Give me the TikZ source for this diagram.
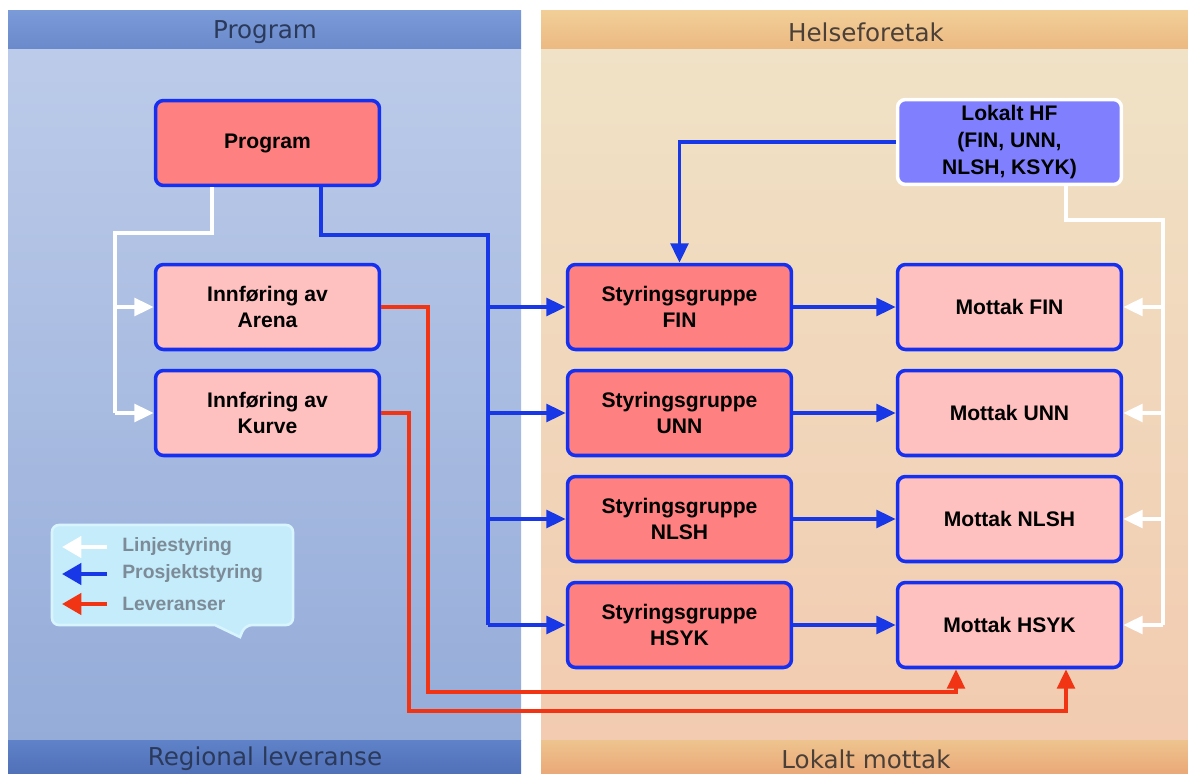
\documentclass[tikz,border=0pt]{standalone}
\usepackage{fontspec}
\setmainfont{Liberation Sans}
\newfontfamily\bandfont{DejaVu Sans}
\usetikzlibrary{arrows.meta}
\definecolor{boxblue}{HTML}{1530F0}
\definecolor{boxdark}{HTML}{FF8080}
\definecolor{boxlight}{HTML}{FFC0C0}
\definecolor{hffill}{HTML}{8080FF}
\definecolor{lineblue}{HTML}{1838E8}
\definecolor{linered}{HTML}{F03414}
\definecolor{lefttxt}{HTML}{2B3A5A}
\definecolor{righttxt}{HTML}{4A4038}
\definecolor{lhead1}{HTML}{7B9AD8}
\definecolor{lhead2}{HTML}{6A8ACB}
\definecolor{lbody1}{HTML}{BCCBE9}
\definecolor{lbody2}{HTML}{95ACD9}
\definecolor{lfoot1}{HTML}{5F82C8}
\definecolor{lfoot2}{HTML}{5070B8}
\definecolor{rhead1}{HTML}{F2CF98}
\definecolor{rhead2}{HTML}{ECB982}
\definecolor{rbody1}{HTML}{F0E2C6}
\definecolor{rbody2}{HTML}{F2CBB0}
\definecolor{rfoot1}{HTML}{EEC48E}
\definecolor{rfoot2}{HTML}{EAA878}
\definecolor{legfill}{HTML}{C4ECFA}
\definecolor{legedge}{HTML}{D8F4FF}
\definecolor{legtxt}{HTML}{7D8B98}
\begin{document}
\begin{tikzpicture}
  [x=0.02cm,y=-0.02cm,
   every node/.style={align=center,font=\bfseries\fontsize{12}{15.2}\selectfont},
   box/.style={draw=boxblue,line width=2pt,rounded corners=0.16cm,minimum width=4.48cm,minimum height=1.7cm},
   dark/.style={box,fill=boxdark},
   light/.style={box,fill=boxlight},
   bandtxt/.style={font=\bandfont\fontsize{14}{16}\selectfont},
   legtext/.style={anchor=west,inner sep=0pt,text=legtxt,font=\bfseries\fontsize{11}{13}\selectfont},
   lnk/.style={line width=2.1pt,-{Triangle[length=11pt,width=10pt]}},
   blueline/.style={lnk,draw=lineblue},
   whiteline/.style={lnk,draw=white},
   redline/.style={lnk,draw=linered},
   legarrow/.style={line width=2.4pt,-{Triangle[length=11pt,width=12pt]}}]
\useasboundingbox (0,0) rectangle (1188,774);
  % bakgrunn: program og helseforetak
  \fill[white] (0,0) rectangle (1188,774);
  \shade[top color=lbody1,bottom color=lbody2] (8,48) rectangle (521,740);
  \shade[top color=lhead1,bottom color=lhead2] (8,10) rectangle (521,48);
  \shade[top color=lfoot1,bottom color=lfoot2] (8,740) rectangle (521,774);
  \shade[top color=rbody1,bottom color=rbody2] (541,48) rectangle (1188,740);
  \shade[top color=rhead1,bottom color=rhead2] (541,10) rectangle (1188,48);
  \shade[top color=rfoot1,bottom color=rfoot2] (541,740) rectangle (1188,774);
  \node[bandtxt,text=lefttxt] (tprog) at (265,32) {Program};
  \node[bandtxt,text=righttxt] (thf) at (866,32) {Helseforetak};
  \node[bandtxt,text=lefttxt] (treg) at (265,759) {Regional leveranse};
  \node[bandtxt,text=righttxt] (tlok) at (866,759) {Lokalt mottak};

  % bokser
  \node[dark] (prog) at (267.5,143) {Program};
  \node[light] (arena) at (267.5,307) {Innføring av\\Arena};
  \node[light] (kurve) at (267.5,413) {Innføring av\\Kurve};
  \node[box,draw=white,fill=hffill] (hf) at (1009.5,142) {Lokalt HF\\(FIN, UNN,\\NLSH, KSYK)};
  \node[dark] (sfin) at (679.5,307) {Styringsgruppe\\FIN};
  \node[dark] (sunn) at (679.5,413) {Styringsgruppe\\UNN};
  \node[dark] (snlsh) at (679.5,519) {Styringsgruppe\\NLSH};
  \node[dark] (shsyk) at (679.5,625) {Styringsgruppe\\HSYK};
  \node[light] (mfin) at (1009.5,307) {Mottak FIN};
  \node[light] (munn) at (1009.5,413) {Mottak UNN};
  \node[light] (mnlsh) at (1009.5,519) {Mottak NLSH};
  \node[light] (mhsyk) at (1009.5,625) {Mottak HSYK};

  % linjestyring
  \coordinate (w1) at (115,233);
  \draw[whiteline,-] ([xshift=-1.11cm]prog.south) |- (w1) -- (w1 |- kurve.west);
  \foreach \to in {arena,kurve}
    \draw[whiteline] (w1 |- \to.west) -- (\to.west);
  \coordinate (w2) at (1163,220);
  \draw[whiteline,-] ([xshift=1.13cm]hf.south) |- (w2) -- (w2 |- mhsyk.east);
  \foreach \to in {mfin,munn,mnlsh,mhsyk}
    \draw[whiteline] (w2 |- \to.east) -- (\to.east);

  % prosjektstyring
  \coordinate (b1) at (488,235);
  \draw[blueline,-] ([xshift=1.07cm]prog.south) |- (b1) -- (b1 |- shsyk.west);
  \foreach \to in {sfin,sunn,snlsh,shsyk}
    \draw[blueline] (b1 |- \to.west) -- (\to.west);
  \draw[blueline] (hf.west) -| (sfin.north);
  \foreach \from/\to in {sfin/mfin, sunn/munn, snlsh/mnlsh, shsyk/mhsyk}
    \draw[blueline] (\from) -- (\to);

  % leveranser
  \coordinate (r1) at (428,692);
  \coordinate (r2) at (409,711);
  \draw[redline] (arena.east) -| (r1) -| ([xshift=-1.07cm]mhsyk.south);
  \draw[redline] (kurve.east) -| (r2) -| ([xshift=1.13cm]mhsyk.south);

  % forklaring
  \draw[draw=legedge,line width=1.5pt,fill=legfill,rounded corners=0.14cm]
    (52,525) -- (293,525) -- (293,625) -- (245,625) [sharp corners] -- (240,637) -- (215,625)
    [rounded corners=0.14cm] -- (52,625) -- cycle;
  \node[legtext] (llin) at (122,547) {Linjestyring};
  \node[legtext] (lpro) at (122,574) {Prosjektstyring};
  \node[legtext] (llev) at (122,604) {Leveranser};
  \draw[legarrow,draw=white] ([xshift=-0.3cm]llin.west) -- ++(-0.9cm,0);
  \draw[legarrow,draw=lineblue] ([xshift=-0.3cm]lpro.west) -- ++(-0.9cm,0);
  \draw[legarrow,draw=linered] ([xshift=-0.3cm]llev.west) -- ++(-0.9cm,0);
\end{tikzpicture}
\end{document}
